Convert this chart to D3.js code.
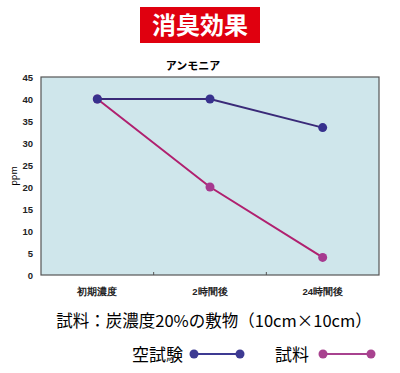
<!DOCTYPE html>
<meta charset="utf-8">
<style>
body { margin: 0; background: #fff; }
svg { font-family: "Noto Sans CJK JP", "Noto Sans", sans-serif; }
.axis text { font-size: 9.5px; font-weight: bold; fill: #222; }
.axis path, .axis line { stroke: #444; }
</style>
<body>
<div id="chart"></div>
</body>
<script src="https://d3js.org/d3.v7.min.js"></script>
<script>

var categories = ["初期濃度", "2時間後", "24時間後"];
var blankValues = [40, 40, 33.5];
var sampleValues = [40, 20, 4];
var yTicks = [0, 5, 10, 15, 20, 25, 30, 35, 40, 45];
var seriesNames = ["空試験", "試料"];

var width = 400, height = 373;
var plot = {left: 41, right: 379, top: 77, bottom: 275};

var svg = d3.select("#chart").append("svg")
    .attr("width", width)
    .attr("height", height);

// title box
svg.append("rect")
    .attr("x", 140).attr("y", 7)
    .attr("width", 120).attr("height", 36)
    .attr("fill", "#e0000f");
svg.append("text")
    .attr("x", 200).attr("y", 34)
    .attr("text-anchor", "middle")
    .attr("fill", "#fff")
    .style("font-size", "24px")
    .style("font-weight", "bold")
    .text("消臭効果");

svg.append("text")
    .attr("x", 193).attr("y", 70)
    .attr("text-anchor", "middle")
    .style("font-size", "11px")
    .style("font-weight", "bold")
    .text("アンモニア");

var x = d3.scaleBand().domain(categories).range([plot.left, plot.right]);
var y = d3.scaleLinear().domain([0, 45]).range([plot.bottom, plot.top]);

svg.append("rect")
    .attr("x", plot.left).attr("y", plot.top)
    .attr("width", plot.right - plot.left)
    .attr("height", plot.bottom - plot.top)
    .attr("fill", "#cfe6eb")
    .attr("stroke", "#555")
    .attr("stroke-width", 1.2);

// y axis labels
svg.append("g")
    .attr("class", "axis")
    .attr("transform", "translate(" + plot.left + ",0)")
    .call(d3.axisLeft(y).tickValues(yTicks).tickSize(0).tickPadding(8))
  .call(function(g) { g.select(".domain").remove(); });

// x axis labels
svg.append("g")
    .attr("class", "axis")
    .attr("transform", "translate(0," + plot.bottom + ")")
    .call(d3.axisBottom(x).tickSize(0).tickPadding(13))
  .call(function(g) { g.select(".domain").remove(); });

// inner tick marks at band boundaries
svg.selectAll(".sep")
    .data(categories.slice(1))
  .enter().append("line")
    .attr("x1", function(d) { return x(d); })
    .attr("x2", function(d) { return x(d); })
    .attr("y1", plot.bottom)
    .attr("y2", plot.bottom - 3)
    .attr("stroke", "#555");

svg.append("text")
    .attr("transform", "translate(17," + y(22.5) + ") rotate(-90)")
    .attr("text-anchor", "middle")
    .style("font-size", "9px")
    .text("ppm");

var line = d3.line()
    .x(function(d, i) { return x(categories[i]) + x.bandwidth() / 2; })
    .y(function(d) { return y(d); });

var series = [
  {values: sampleValues, line: "#b0206f", dot: "#a6398f"},
  {values: blankValues, line: "#3a2a78", dot: "#37318d"}
];

series.forEach(function(s) {
  svg.append("path")
      .attr("d", line(s.values))
      .attr("fill", "none")
      .attr("stroke", s.line)
      .attr("stroke-width", 2);
  svg.selectAll(null)
      .data(s.values)
    .enter().append("circle")
      .attr("cx", function(d, i) { return x(categories[i]) + x.bandwidth() / 2; })
      .attr("cy", function(d) { return y(d); })
      .attr("r", 4.5)
      .attr("fill", s.dot);
});

svg.append("text")
    .attr("x", 214).attr("y", 327)
    .attr("text-anchor", "middle")
    .style("font-size", "16.5px")
    .text("試料：炭濃度20%の敷物（10cm×10cm）");

// legend
var legendItems = [
  {name: seriesNames[0], tx: 132, x1: 194, x2: 240, color: "#3d3a92"},
  {name: seriesNames[1], tx: 275, x1: 323, x2: 371, color: "#a8428f"}
];
legendItems.forEach(function(d) {
  svg.append("text")
      .attr("x", d.tx).attr("y", 361)
      .style("font-size", "17px")
      .text(d.name);
  svg.append("line")
      .attr("x1", d.x1).attr("x2", d.x2)
      .attr("y1", 354).attr("y2", 354)
      .attr("stroke", d.color)
      .attr("stroke-width", 2);
  [d.x1, d.x2].forEach(function(cx) {
    svg.append("circle")
        .attr("cx", cx).attr("cy", 354)
        .attr("r", 4.5)
        .attr("fill", d.color);
  });
});
</script>
